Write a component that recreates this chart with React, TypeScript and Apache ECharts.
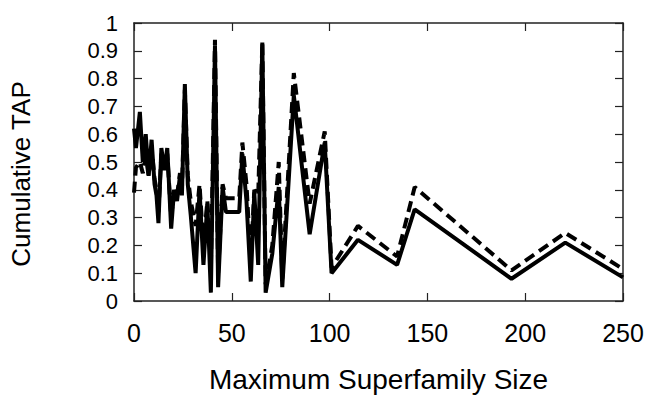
import React, { useEffect, useRef } from "react";
import * as echarts from "echarts";

// Maximum superfamily size (x) and the two cumulative TAP series
const sizes = [
  0, 1, 3, 4.5, 6, 7.5, 9, 10.5, 11.5, 12.5, 14, 15.5, 17, 19, 20.5, 22, 23.5, 24.5,
  26, 27.5, 29, 31.5, 33.5, 35.5, 37.5, 39.3, 41.4, 43, 45.3, 47, 53.8, 55.4, 57.5,
  59.7, 61.5, 63.5, 65.6, 67.3, 70.7, 74, 75.8, 81.7, 89.8, 97.5, 101, 114.5, 134.5,
  143.5, 193, 220.5, 250,
];
const solidTAP = [
  0.62, 0.55, 0.68, 0.5, 0.6, 0.45, 0.58, 0.42, 0.38, 0.28, 0.55, 0.47, 0.55, 0.26, 0.4,
  0.36, 0.45, 0.38, 0.78, 0.42, 0.31, 0.1, 0.4, 0.13, 0.35, 0.03, 0.92, 0.05, 0.41, 0.32,
  0.32, 0.53, 0.36, 0.07, 0.39, 0.13, 0.93, 0.03, 0.17, 0.41, 0.05, 0.74, 0.24, 0.57, 0.1,
  0.22, 0.13, 0.33, 0.08, 0.21, 0.085,
];
const dashedTAP = [
  0.39, 0.48, 0.5, 0.46, 0.52, 0.45, 0.55, 0.44, 0.4, 0.32, 0.53, 0.48, 0.53, 0.3, 0.4,
  0.38, 0.46, 0.4, 0.76, 0.45, 0.36, 0.27, 0.42, 0.2, 0.36, 0.12, 0.94, 0.1, 0.42, 0.37,
  0.37, 0.57, 0.42, 0.14, 0.4, 0.38, 0.93, 0.06, 0.2, 0.5, 0.08, 0.82, 0.35, 0.61, 0.12,
  0.27, 0.16, 0.41, 0.11, 0.245, 0.115,
];
const xTicks = { min: 0, max: 250, interval: 50 };
const yTicks = { min: 0, max: 1, interval: 0.1 };

const FONT = "'Liberation Sans', Arial, sans-serif";

export default function App() {
  const ref = useRef<HTMLDivElement>(null);
  useEffect(() => {
    if (!ref.current) return;
    const chart = echarts.init(ref.current, null, { renderer: "svg" });
    const axisLine = { show: true, onZero: false, lineStyle: { color: "#222", width: 1.5 } };
    const tick = { show: true, inside: true, length: 8, lineStyle: { color: "#222", width: 1.2 } };
    chart.setOption({
      animation: false,
      backgroundColor: "#fff",
      grid: { left: 131, right: 27, top: 23, bottom: 95.5, containLabel: false },
      xAxis: [
        {
          type: "value",
          ...xTicks,
          position: "bottom",
          axisLine,
          axisTick: tick,
          splitLine: { show: false },
          axisLabel: { fontSize: 25, color: "#000", fontFamily: FONT, margin: 19 },
          name: "Maximum Superfamily Size",
          nameLocation: "middle",
          nameGap: 64,
          nameTextStyle: { fontSize: 28, color: "#000", fontFamily: FONT },
        },
        {
          type: "value",
          ...xTicks,
          position: "top",
          axisLine,
          axisTick: tick,
          splitLine: { show: false },
          axisLabel: { show: false },
        },
      ],
      yAxis: [
        {
          type: "value",
          ...yTicks,
          position: "left",
          axisLine,
          axisTick: tick,
          splitLine: { show: false },
          axisLabel: {
            fontSize: 22,
            color: "#000",
            fontFamily: FONT,
            margin: 16,
            formatter: (v: number) => String(Math.round(v * 10) / 10),
          },
          name: "Cumulative TAP",
          nameLocation: "middle",
          nameRotate: 90,
          nameGap: 100,
          nameTextStyle: { fontSize: 26, color: "#000", fontFamily: FONT, padding: [0, 24, 0, 0] },
        },
        {
          type: "value",
          ...yTicks,
          position: "right",
          axisLine,
          axisTick: tick,
          splitLine: { show: false },
          axisLabel: { show: false },
        },
      ],
      series: [
        {
          type: "line",
          xAxisIndex: 0,
          yAxisIndex: 0,
          symbol: "none",
          data: sizes.map((x, i) => [x, dashedTAP[i]]),
          lineStyle: { color: "#000", width: 4, type: [11, 6] },
        },
        {
          type: "line",
          xAxisIndex: 0,
          yAxisIndex: 0,
          symbol: "none",
          data: sizes.map((x, i) => [x, solidTAP[i]]),
          lineStyle: { color: "#000", width: 4 },
        },
      ],
    });
    return () => chart.dispose();
  }, []);
  return (
    <div
      ref={ref}
      style={{ position: "absolute", left: 0, top: 0, width: 650, height: 398 }}
    />
  );
}
